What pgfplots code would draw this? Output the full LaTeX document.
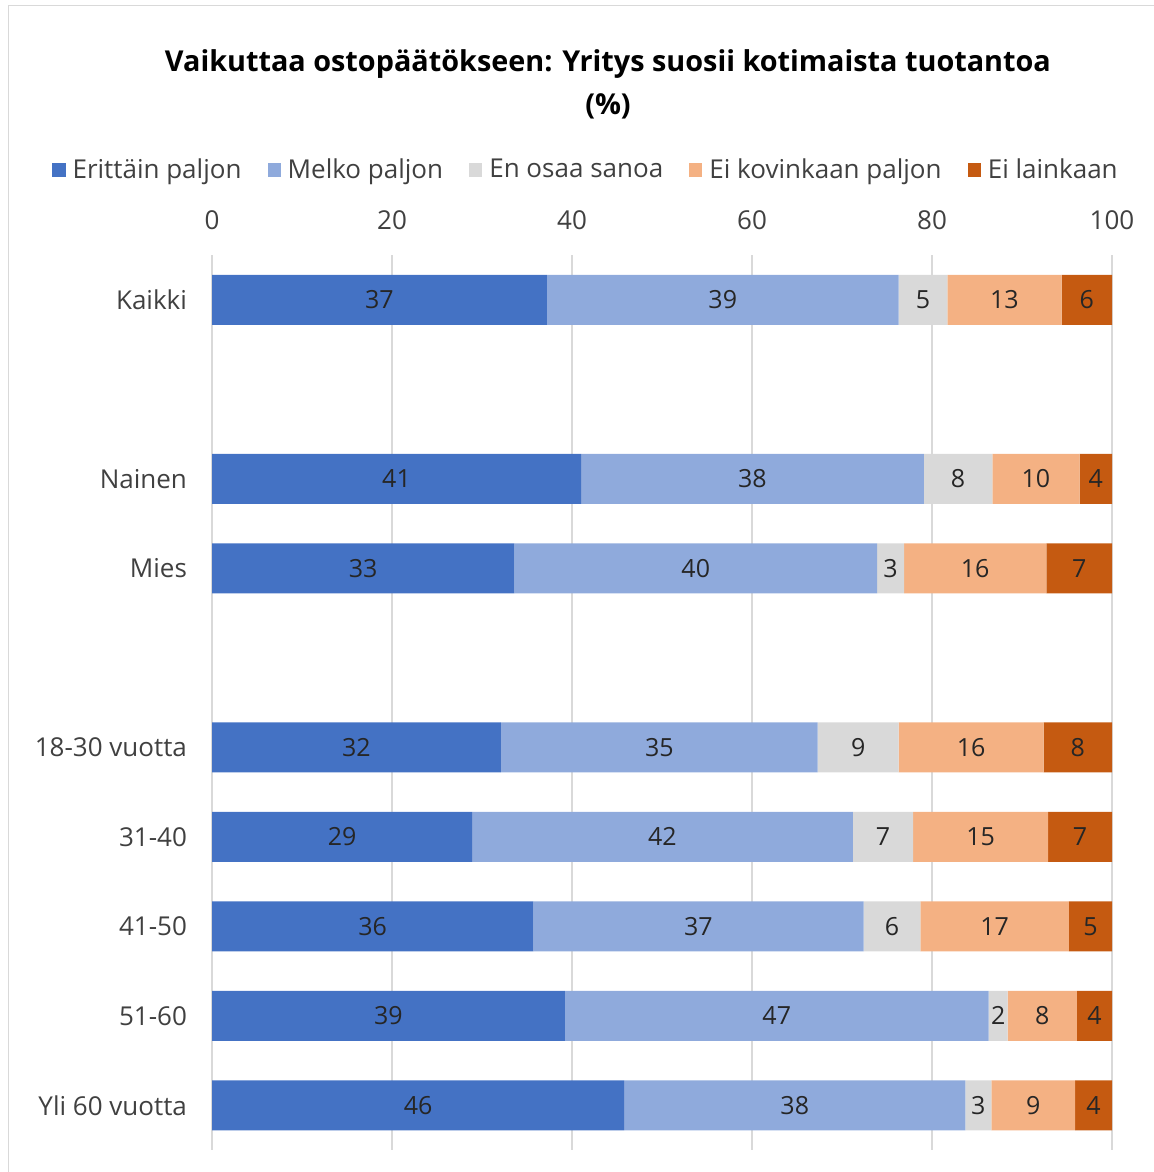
\documentclass[border=0pt]{standalone}
\usepackage{pgfplots}
\pgfplotsset{compat=1.18}
\usepackage{pgfplotstable}
\usepackage{fontspec}
\setmainfont{Open Sans}
\definecolor{c1}{HTML}{4472C4}
\definecolor{c2}{HTML}{8FAADC}
\definecolor{c3}{HTML}{D9D9D9}
\definecolor{c4}{HTML}{F4B183}
\definecolor{c5}{HTML}{C55A11}
\definecolor{txt}{HTML}{404040}
\definecolor{lab}{HTML}{262626}
\definecolor{gridc}{HTML}{D9D9D9}

\pgfplotstableread{
y x l
0 37.2 37
2 41.0 41
3 33.6 33
5 32.1 32
6 28.9 29
7 35.7 36
8 39.2 39
9 45.8 46
}\tA
\pgfplotstableread{
y x l
0 39.1 39
2 38.1 38
3 40.3 40
5 35.2 35
6 42.3 42
7 36.7 37
8 47.1 47
9 37.9 38
}\tB
\pgfplotstableread{
y x l
0 5.4 5
2 7.6 8
3 3.0 3
5 9.0 9
6 6.7 7
7 6.3 6
8 2.1 2
9 2.9 3
}\tC
\pgfplotstableread{
y x l
0 12.7 13
2 9.7 10
3 15.8 16
5 16.1 16
6 15.0 15
7 16.5 17
8 7.7 8
9 9.3 9
}\tD
\pgfplotstableread{
y x l
0 5.6 6
2 3.6 4
3 7.3 7
5 7.6 8
6 7.1 7
7 4.8 5
8 3.9 4
9 4.1 4
}\tE

\begin{document}
\begin{tikzpicture}
\useasboundingbox (0pt,0pt) rectangle (577pt,-586pt);
\draw[gridc] (4pt,-586pt) -- (4pt,-2.5pt) -- (577pt,-2.5pt);
\node[font=\bfseries\fontsize{14.4}{21.5}\selectfont, align=center, text=black] at (304pt,-42pt) {Vaikuttaa ostopäätökseen: Yritys suosii kotimaista tuotantoa\\(\%)};
\begin{axis}[
  at={(106pt,-575pt)}, anchor=south west,
  width=450pt, height=447.5pt, scale only axis,
  xbar stacked, bar width=25pt,
  xmin=0, xmax=100, ymin=-0.5, ymax=9.5, y dir=reverse,
  axis line style={draw=none},
  major tick length=0pt,
  xmajorgrids, grid style={gridc, line width=0.6pt},
  xtick={0,20,40,60,80,100},
  xticklabel pos=upper,
  ytick={0,2,3,5,6,7,8,9},
  yticklabels={Kaikki,Nainen,Mies,18-30 vuotta,31-40,41-50,51-60,Yli 60 vuotta},
  tick label style={font=\fontsize{13}{15}\selectfont, text=txt},
  /pgf/number format/assume math mode=true,
  xticklabel style={yshift=9pt},
  yticklabel style={xshift=-9pt},
  point meta=explicit symbolic,
  nodes near coords,
  every node near coord/.append style={font=\fontsize{12.5}{15}\selectfont, text=lab, anchor=center},
  legend columns=5,
  legend style={at={(0.4167,1.095)}, anchor=center, draw=none, fill=none,
    font=\fontsize{13}{15}\selectfont, text=txt,
    /tikz/every even column/.append style={column sep=11pt},
    /tikz/every odd column/.append style={column sep=1.5pt}},
  legend image code/.code={\fill[#1] (0pt,-3.3pt) rectangle (6.6pt,3.3pt);},
]
\addplot[fill=c1, draw=none] table[x=x,y=y,meta=l]{\tA};
\addplot[fill=c2, draw=none] table[x=x,y=y,meta=l]{\tB};
\addplot[fill=c3, draw=none] table[x=x,y=y,meta=l]{\tC};
\addplot[fill=c4, draw=none] table[x=x,y=y,meta=l]{\tD};
\addplot[fill=c5, draw=none] table[x=x,y=y,meta=l]{\tE};
\legend{Erittäin paljon,Melko paljon,En osaa sanoa,Ei kovinkaan paljon,Ei lainkaan}
\end{axis}
\end{tikzpicture}
\end{document}
